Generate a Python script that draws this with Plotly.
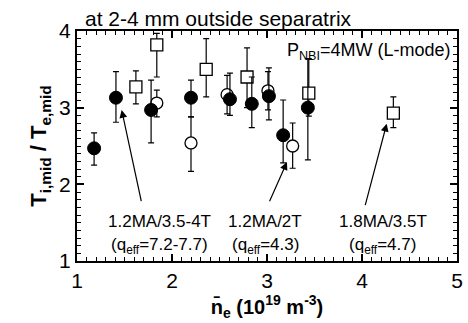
import plotly.graph_objects as go

# Filled circles
fc_x = [1.18, 1.41, 1.78, 2.20, 2.61, 2.84, 3.02, 3.17, 3.43]
fc_y = [2.47, 3.13, 2.97, 3.13, 3.11, 3.05, 3.15, 2.64, 3.00]
fc_ep = [0.20, 0.34, 0.39, 0.23, 0.34, 0.35, 0.37, 0.46, 0.64]
fc_em = [0.22, 0.32, 0.43, 0.25, 0.21, 0.31, 0.31, 0.36, 0.68]

# Open circles
oc_x = [1.84, 2.20, 2.58, 3.01, 3.27]
oc_y = [3.06, 2.54, 3.17, 3.22, 2.50]
oc_ep = [0.17, 0.34, 0.25, 0.25, 0.30]
oc_em = [0.18, 0.37, 0.25, 0.25, 0.29]

# Open squares
sq_x = [1.62, 1.84, 2.36, 2.79, 3.44, 4.33]
sq_y = [3.27, 3.82, 3.50, 3.40, 3.19, 2.93]
sq_ep = [0.21, 0.15, 0.40, 0.38, 0.45, 0.21]
sq_em = [0.22, 0.42, 0.36, 0.40, 0.30, 0.19]

# Annotations: label lines, label position, arrow tail/head positions
lab_line1 = ["1.2MA/3.5-4T", "1.2MA/2T", "1.8MA/3.5T"]
lab_line2 = ["(q<sub>eff</sub>=7.2-7.7)", "(q<sub>eff</sub>=4.3)", "(q<sub>eff</sub>=4.7)"]
lab_x = [1.87, 2.98, 4.22]
lab_y1 = [1.51, 1.51, 1.51]
lab_y2 = [1.20, 1.20, 1.20]
tail_x = [1.68, 3.02, 4.03]
tail_y = [1.76, 1.76, 1.71]
head_x = [1.47, 3.21, 4.26]
head_y = [2.97, 2.29, 2.79]

FONT = "Liberation Sans, Arial, sans-serif"

def err(p, m):
    return dict(type="data", symmetric=False, array=p, arrayminus=m,
                color="black", thickness=1.2, width=3)

fig = go.Figure()
fig.add_trace(go.Scatter(x=sq_x, y=sq_y, mode="markers", error_y=err(sq_ep, sq_em),
                         marker=dict(symbol="square", size=12, color="white",
                                     line=dict(color="black", width=1.3))))
fig.add_trace(go.Scatter(x=oc_x, y=oc_y, mode="markers", error_y=err(oc_ep, oc_em),
                         marker=dict(symbol="circle", size=12, color="white",
                                     line=dict(color="black", width=1.3))))
fig.add_trace(go.Scatter(x=fc_x, y=fc_y, mode="markers", error_y=err(fc_ep, fc_em),
                         marker=dict(symbol="circle", size=13, color="black",
                                     line=dict(color="black", width=1))))

for l1, l2, lx, ly1, ly2, tx, ty, hx, hy in zip(lab_line1, lab_line2, lab_x, lab_y1, lab_y2,
                                                 tail_x, tail_y, head_x, head_y):
    fig.add_annotation(x=hx, y=hy, ax=tx, ay=ty, axref="x", ayref="y", xref="x", yref="y",
                       text="", showarrow=True, arrowhead=2, arrowsize=1.3,
                       arrowwidth=1.2, arrowcolor="black")
    fig.add_annotation(x=lx, y=ly1, xref="x", yref="y", text=l1, showarrow=False,
                       font=dict(family=FONT, size=17, color="black"))
    fig.add_annotation(x=lx, y=ly2, xref="x", yref="y", text=l2, showarrow=False,
                       font=dict(family=FONT, size=17, color="black"))

fig.add_annotation(x=0.99, y=0.97, xref="paper", yref="paper", xanchor="right", yanchor="top",
                   text="P<sub>NBI</sub>=4MW (L-mode)", showarrow=False,
                   font=dict(family=FONT, size=18, color="black"))
fig.add_annotation(x=0.015, y=1.0, xref="paper", yref="paper", xanchor="left", yanchor="bottom",
                   text="at 2-4 mm outside separatrix", showarrow=False,
                   font=dict(family=FONT, size=21, color="black"), yshift=-1)

axis_common = dict(showline=True, linecolor="black", linewidth=2, mirror="allticks",
                   ticks="inside", ticklen=7, tickwidth=1.5, tickcolor="black",
                   showgrid=False, zeroline=False, automargin=False,
                   tickfont=dict(family=FONT, size=21, color="black"),
                   minor=dict(ticks="inside", ticklen=4, tickwidth=1.2, tickcolor="black",
                              dtick=0.1, showgrid=False))

fig.update_xaxes(range=[1, 5], dtick=1, tick0=1,
                 title=dict(text="<b>n̄<sub>e</sub> (10<sup>19</sup> m<sup>-3</sup>)</b>",
                            font=dict(family=FONT, size=20, color="black"), standoff=0),
                 **axis_common)
fig.update_yaxes(range=[1, 4], dtick=1, tick0=1,
                 title=dict(text="<b>T<sub>i,mid</sub> / T<sub>e,mid</sub></b>",
                            font=dict(family=FONT, size=22, color="black"), standoff=6),
                 **axis_common)

fig.update_layout(width=468, height=323, margin=dict(l=77, r=11, t=31, b=62),
                  plot_bgcolor="white", paper_bgcolor="white", showlegend=False)

fig.write_html("out.html", config={"displayModeBar": False},
               post_script="document.body.style.margin='0';")
